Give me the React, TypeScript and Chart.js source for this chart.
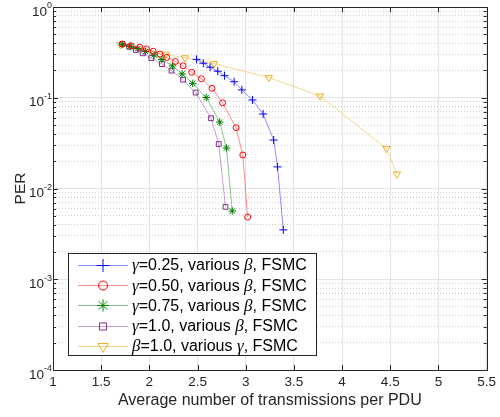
import React, { useEffect, useRef } from 'react';
import { Chart, registerables } from 'chart.js';
import { drawPoint } from 'chart.js/helpers';

Chart.register(...registerables);

// ---------- data ----------
const xTickValues = [1, 1.5, 2, 2.5, 3, 3.5, 4, 4.5, 5, 5.5];
const xTickLabels = ['1', '1.5', '2', '2.5', '3', '3.5', '4', '4.5', '5', '5.5'];
const yDecadeExponents = [-4, -3, -2, -1, 0];

const seriesLabels = [
  'γ=0.25, various β, FSMC',
  'γ=0.50, various β, FSMC',
  'γ=0.75, various β, FSMC',
  'γ=1.0, various β, FSMC',
  'β=1.0, various γ, FSMC',
];

const g025X = [2.49, 2.56, 2.63, 2.71, 2.78, 2.88, 2.96, 3.07, 3.18, 3.29, 3.33, 3.39];
const g025Y = [0.265, 0.24, 0.217, 0.196, 0.175, 0.15, 0.122, 0.0945, 0.0662, 0.0342, 0.0173, 0.0035];

const g050X = [1.72, 1.81, 1.9, 1.97, 2.04, 2.11, 2.18, 2.27, 2.35, 2.44, 2.54, 2.65, 2.76, 2.9, 2.97, 3.02];
const g050Y = [0.39, 0.375, 0.36, 0.345, 0.325, 0.303, 0.278, 0.251, 0.225, 0.191, 0.162, 0.127, 0.088, 0.0467, 0.0234, 0.00485];

const g075X = [1.72, 1.8, 1.88, 1.96, 2.05, 2.13, 2.24, 2.34, 2.45, 2.59, 2.73, 2.8, 2.86];
const g075Y = [0.386, 0.367, 0.349, 0.323, 0.296, 0.264, 0.224, 0.183, 0.144, 0.1006, 0.054, 0.0279, 0.00565];

const g100X = [1.72, 1.79, 1.86, 1.93, 2.02, 2.13, 2.23, 2.35, 2.48, 2.64, 2.72, 2.79];
const g100Y = [0.391, 0.365, 0.336, 0.309, 0.274, 0.235, 0.199, 0.158, 0.114, 0.0595, 0.0309, 0.00628];

const b100X = [1.7, 2.17, 2.37, 2.67, 3.24, 3.77, 4.46, 4.57];
const b100Y = [0.385, 0.301, 0.275, 0.238, 0.167, 0.1045, 0.0276, 0.0144];

const seriesX = [g025X, g050X, g075X, g100X, b100X];
const seriesY = [g025Y, g050Y, g075Y, g100Y, b100Y];

// ---------- styles ----------
const styles = [
  { marker: '#0000ff', line: 'rgba(0,0,255,0.45)', pointStyle: 'cross', rotation: 0, radius: 4, legendRadius: 6.5, hollow: false },
  { marker: '#ff0000', line: 'rgba(255,0,0,0.45)', pointStyle: 'circle', rotation: 0, radius: 3, legendRadius: 4.5, hollow: true },
  { marker: '#008000', line: 'rgba(0,128,0,0.45)', pointStyle: 'star', rotation: 0, radius: 3.8, legendRadius: 6, hollow: false },
  { marker: '#7e2f8e', line: 'rgba(126,47,142,0.45)', pointStyle: 'rect', rotation: 0, radius: 3.4, legendRadius: 5, hollow: true },
  { marker: '#edb120', line: 'rgba(237,177,32,0.5)', pointStyle: 'triangle', rotation: 180, radius: 4.2, legendRadius: 6, hollow: true },
];

const SANS = '"Liberation Sans", Arial, sans-serif';
const SERIF = '"Liberation Serif", "Times New Roman", serif';
const TEXT = '#262626';

const isMajor = (v: number) => {
  const l = Math.log10(v);
  return Math.abs(l - Math.round(l)) < 1e-6;
};

function drawRich(ctx: CanvasRenderingContext2D, text: string, x: number, y: number) {
  const runs = text.split(/([α-ω])/).filter((s) => s.length > 0);
  ctx.textBaseline = 'middle';
  ctx.textAlign = 'left';
  ctx.fillStyle = '#000';
  for (const r of runs) {
    const greek = /^[α-ω]$/.test(r);
    ctx.font = greek ? `italic 17px ${SERIF}` : `16px ${SANS}`;
    ctx.fillText(r, x, y);
    x += ctx.measureText(r).width;
  }
}

const decorPlugin = {
  id: 'decor',
  afterDraw(chart: any) {
    const { ctx, chartArea } = chart;
    const { left, right, top, bottom } = chartArea;
    const xs = chart.scales.x;
    const ys = chart.scales.y;
    ctx.save();
    // box
    ctx.strokeStyle = TEXT;
    ctx.lineWidth = 1;
    ctx.strokeRect(Math.round(left) + 0.5, Math.round(top) + 0.5, Math.round(right - left), Math.round(bottom - top));
    // inward ticks x
    ctx.beginPath();
    for (const t of xs.ticks) {
      const px = Math.round(xs.getPixelForValue(t.value)) + 0.5;
      ctx.moveTo(px, bottom);
      ctx.lineTo(px, bottom - 5);
      ctx.moveTo(px, top);
      ctx.lineTo(px, top + 5);
    }
    // inward ticks y
    for (const t of ys.ticks) {
      const py = Math.round(ys.getPixelForValue(t.value)) + 0.5;
      const len = isMajor(t.value) ? 5 : 3;
      ctx.moveTo(left, py);
      ctx.lineTo(left + len, py);
      ctx.moveTo(right, py);
      ctx.lineTo(right - len, py);
    }
    ctx.stroke();
    // y tick labels 10^e
    ctx.fillStyle = TEXT;
    ctx.textBaseline = 'middle';
    ctx.textAlign = 'right';
    for (const e of yDecadeExponents) {
      const py = ys.getPixelForValue(Math.pow(10, e));
      const expText = e < 0 ? '-' + String(-e) : String(e);
      ctx.font = `9px ${SANS}`;
      const ew = ctx.measureText(expText).width;
      ctx.fillText(expText, left - 1, py - 1);
      ctx.font = `13.5px ${SANS}`;
      ctx.fillText('10', left - 1 - ew, py + 5);
    }
    // legend
    const lg = { l: 68, t: 253, r: 316, b: 355 };
    ctx.fillStyle = '#fff';
    ctx.fillRect(lg.l, lg.t, lg.r - lg.l, lg.b - lg.t);
    ctx.strokeStyle = TEXT;
    ctx.lineWidth = 1;
    ctx.strokeRect(lg.l + 0.5, lg.t + 0.5, lg.r - lg.l, lg.b - lg.t);
    chart.data.datasets.forEach((ds: any, i: number) => {
      const st = styles[i];
      const yy = 265 + 20.2 * i;
      ctx.strokeStyle = st.line;
      ctx.lineWidth = 1;
      ctx.beginPath();
      ctx.moveTo(78, Math.round(yy) + 0.5);
      ctx.lineTo(128, Math.round(yy) + 0.5);
      ctx.stroke();
      ctx.strokeStyle = st.marker;
      ctx.fillStyle = st.hollow ? 'rgba(255,255,255,0)' : st.marker;
      drawPoint(ctx, { pointStyle: st.pointStyle, rotation: st.rotation, radius: st.legendRadius, borderWidth: 1 } as any, 103, Math.round(yy) + 0.5);
      drawRich(ctx, ds.label, 132, yy + 1);
    });
    ctx.restore();
  },
};

export default function App() {
  const ref = useRef<HTMLCanvasElement | null>(null);
  useEffect(() => {
    if (!ref.current) return;
    const datasets = seriesLabels.map((label, i) => ({
      label,
      data: seriesX[i].map((x, j) => ({ x, y: seriesY[i][j] })),
      borderColor: styles[i].line,
      backgroundColor: styles[i].line,
      borderWidth: 1,
      pointStyle: styles[i].pointStyle,
      pointRotation: styles[i].rotation,
      pointRadius: styles[i].radius,
      pointBorderColor: styles[i].marker,
      pointBackgroundColor: styles[i].hollow ? 'rgba(255,255,255,0)' : styles[i].marker,
      pointBorderWidth: 1,
      tension: 0,
      fill: false,
    }));
    const yTickValues: number[] = [];
    for (let e = -4; e <= 0; e++) {
      for (let m = 1; m <= 9; m++) {
        const v = m * Math.pow(10, e);
        if (v <= 1.0000001) yTickValues.push(v);
      }
    }
    const chart = new Chart(ref.current, {
      type: 'line',
      data: { datasets } as any,
      options: {
        responsive: false,
        animation: false,
        devicePixelRatio: 1,
        layout: { padding: { top: 7, right: 10, left: 0, bottom: 0 } },
        plugins: { legend: { display: false }, tooltip: { enabled: false } },
        scales: {
          x: {
            type: 'linear',
            min: 1,
            max: 5.5,
            afterBuildTicks: (scale: any) => {
              scale.ticks = xTickValues.map((v) => ({ value: v }));
            },
            afterFit: (scale: any) => {
              scale.height = 47;
            },
            ticks: {
              color: TEXT,
              font: { family: SANS, size: 13.5 },
              padding: 4,
              maxRotation: 0,
              autoSkip: false,
              callback: (_v: any, idx: number) => xTickLabels[idx],
            },
            grid: { color: '#e3e3e3', lineWidth: 1, drawTicks: false },
            border: { display: false },
            title: {
              display: true,
              text: 'Average number of transmissions per PDU',
              color: TEXT,
              font: { family: SANS, size: 16 },
              padding: { top: 0, bottom: 7 },
            },
          },
          y: {
            type: 'logarithmic',
            min: 1e-4,
            max: 1,
            afterBuildTicks: (scale: any) => {
              scale.ticks = yTickValues.map((v) => ({ value: v }));
            },
            afterFit: (scale: any) => {
              scale.width = 53;
            },
            ticks: { display: false, autoSkip: false },
            grid: {
              drawTicks: false,
              lineWidth: 1,
              color: (c: any) => (c.tick && !isMajor(c.tick.value) ? '#cfcfcf' : '#e3e3e3'),
            },
            border: {
              display: false,
              dash: (c: any) => (c.tick && !isMajor(c.tick.value) ? [1, 2] : []),
            },
            title: {
              display: true,
              text: 'PER',
              color: TEXT,
              font: { family: SANS, size: 15.5 },
              padding: { top: 11, bottom: 0 },
            },
          },
        },
      } as any,
      plugins: [decorPlugin],
    });
    return () => chart.destroy();
  }, []);
  return (
    <div style={{ position: 'fixed', left: 0, top: 0, width: 500, height: 417, background: '#fff' }}>
      <canvas ref={ref} width={500} height={417} style={{ display: 'block' }} />
    </div>
  );
}
